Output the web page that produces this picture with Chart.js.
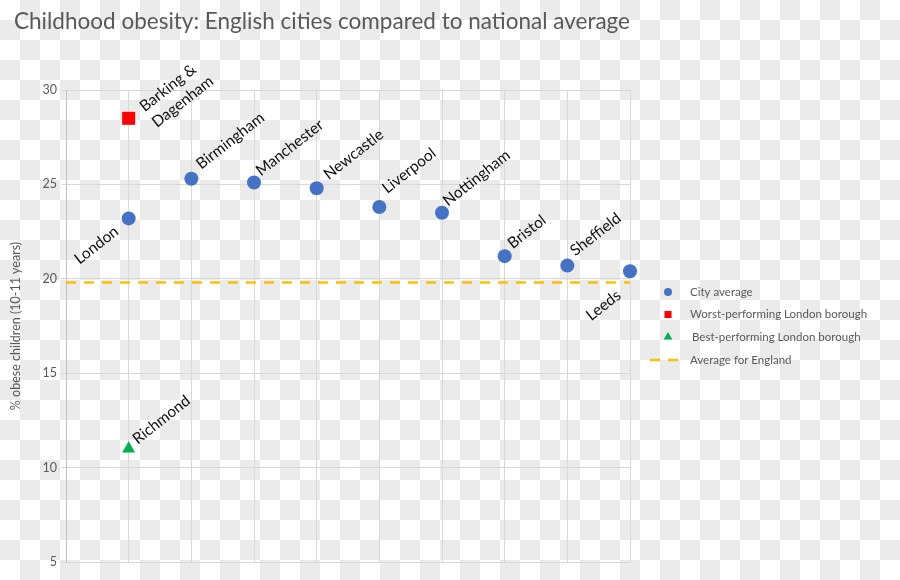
<!DOCTYPE html>
<html><head><meta charset="utf-8">
<script src="https://cdn.jsdelivr.net/npm/chart.js@4.4.1/dist/chart.umd.min.js"></script>
<style>
html,body{margin:0;padding:0;}
body{width:900px;height:580px;overflow:hidden;background-color:#fff;
background-image:conic-gradient(#ebebeb 25%,#fff 0 50%,#ebebeb 0 75%,#fff 0);background-size:40px 40px;}
#wrap{position:relative;width:900px;height:580px;}
</style></head><body>
<div id="wrap"><canvas id="c" width="900" height="580"></canvas></div>
<script>
// ---- data ----
const chartTitle = 'Childhood obesity: English cities compared to national average';
const yAxisTitle = '% obese children (10-11 years)';
const cities = ['London','Birmingham','Manchester','Newcastle','Liverpool','Nottingham','Bristol','Sheffield','Leeds'];
const cityPositions = [1,2,3,4,5,6,7,8,9];
const cityValues = [23.2,25.3,25.1,24.8,23.8,23.5,21.2,20.7,20.4];
const worstBoroughs = ['Barking &\nDagenham'];
const worstPositions = [1];
const worstValues = [28.5];
const bestBoroughs = ['Richmond'];
const bestPositions = [1];
const bestValues = [11.0];
const englandSpan = [0,9];
const englandAverage = [19.8,19.8];
const seriesNames = ['City average','Worst-performing London borough','Best-performing London borough','Average for England'];
const yMin = 5, yMax = 30, yStep = 5;

// ---- styles ----
const FONT = 'Lato';
const TXT = '#595959';
const GRID = '#d9d9d9';
const BLUE = '#4472C4', RED = '#FF0000', GREEN = '#00B050', GOLD = '#FFC000';
const LABEL_ANGLE = -38 * Math.PI / 180;
const labelFont = '15.5px ' + FONT;
// offsets of the label's baseline anchor from its point (style only)
const cityLabelStyle = [
  {dx:-9,dy:15,align:'right'},
  {dx:10,dy:-9,align:'left'},
  {dx:7,dy:-6,align:'left'},
  {dx:12,dy:-8,align:'left'},
  {dx:8,dy:-13,align:'left'},
  {dx:6,dy:-6,align:'left'},
  {dx:8,dy:-7,align:'left'},
  {dx:8,dy:-9,align:'left'},
  {dx:-8,dy:26,align:'right'}
];
const worstLabelStyle = [{dx:16,dy:-6,align:'left'}];
const bestLabelStyle = [{dx:9,dy:-4,align:'left'}];

// fit title font to reference width
const mctx = document.createElement('canvas').getContext('2d');
mctx.font = '24px ' + FONT;
const titleSize = Math.round(24 * 618 / mctx.measureText(chartTitle).width * 10) / 10;

const toPts = (xs, ys) => xs.map((x, i) => ({x: x, y: ys[i]}));

const labelPlugin = {
  id: 'pointLabels',
  afterDatasetsDraw(chart) {
    const ctx = chart.ctx;
    const sets = [[0, cities, cityLabelStyle],[1, worstBoroughs, worstLabelStyle],[2, bestBoroughs, bestLabelStyle]];
    ctx.save();
    ctx.font = labelFont;
    ctx.fillStyle = '#111';
    ctx.textBaseline = 'alphabetic';
    sets.forEach(([di, names, styles]) => {
      const meta = chart.getDatasetMeta(di);
      meta.data.forEach((el, i) => {
        const st = styles[i];
        const lines = names[i].split('\n');
        ctx.save();
        ctx.translate(el.x + st.dx, el.y + st.dy);
        ctx.rotate(LABEL_ANGLE);
        ctx.textAlign = st.align;
        lines.forEach((ln, k) => ctx.fillText(ln, 0, k * 20));
        ctx.restore();
      });
    });
    ctx.restore();
  }
};

const legendPlugin = {
  id: 'customLegend',
  afterDraw(chart) {
    const ctx = chart.ctx;
    const rowsY = [292, 314.5, 337, 360];
    const mx = 668, tx = 690;
    ctx.save();
    ctx.font = '11.5px ' + FONT;
    ctx.fillStyle = TXT;
    ctx.textBaseline = 'middle';
    ctx.textAlign = 'left';
    chart.data.datasets.forEach((ds, i) => {
      const y = rowsY[i];
      if (ds.type === 'line') {
        ctx.save();
        ctx.strokeStyle = ds.borderColor;
        ctx.lineWidth = ds.borderWidth;
        ctx.setLineDash(ds.borderDash);
        ctx.beginPath(); ctx.moveTo(650, y); ctx.lineTo(679, y); ctx.stroke();
        ctx.restore();
      } else {
        ctx.save();
        ctx.fillStyle = ds.backgroundColor; ctx.strokeStyle = ds.backgroundColor;
        const r = ds.pointStyle === 'rect' ? 5 : (ds.pointStyle === 'triangle' ? 5 : 4);
        Chart.helpers.drawPoint(ctx, {pointStyle: ds.pointStyle, radius: r, rotation: 0, borderWidth: 0}, mx, y);
        ctx.restore();
      }
      ctx.fillText(ds.label, tx + (i === 2 ? 2 : 0), y);
    });
    ctx.restore();
  }
};

const shiftTitle = {
  id: 'shiftTitle',
  afterLayout(chart) { if (chart.titleBlock) { chart.titleBlock.left = 14; } }
};

new Chart(document.getElementById('c'), {
  type: 'scatter',
  data: {
    datasets: [
      {label: seriesNames[0], data: toPts(cityPositions, cityValues), pointStyle: 'circle', pointRadius: 7, pointHoverRadius: 7,
       backgroundColor: BLUE, borderColor: BLUE, borderWidth: 0, clip: false},
      {label: seriesNames[1], data: toPts(worstPositions, worstValues), pointStyle: 'rect', pointRadius: 9.2, pointHoverRadius: 9.2,
       backgroundColor: RED, borderColor: RED, borderWidth: 0, clip: false},
      {label: seriesNames[2], data: toPts(bestPositions, bestValues), pointStyle: 'triangle', pointRadius: 7.5, pointHoverRadius: 7.5,
       backgroundColor: GREEN, borderColor: GREEN, borderWidth: 0, clip: false},
      {type: 'line', label: seriesNames[3], data: toPts(englandSpan, englandAverage), borderColor: GOLD, backgroundColor: GOLD,
       borderWidth: 2.5, borderDash: [10, 8], pointRadius: 0, fill: false, showLine: true, clip: false}
    ]
  },
  options: {
    responsive: false,
    animation: false,
    events: [],
    layout: {padding: {left: 8, right: 270, top: 0, bottom: 18}},
    plugins: {
      legend: {display: false},
      tooltip: {enabled: false},
      title: {display: true, text: chartTitle, align: 'start', color: TXT,
        font: {family: FONT, size: titleSize, weight: 'normal', lineHeight: 1.2},
        padding: {top: 22 - titleSize * 0.6, bottom: 90 - (22 + titleSize * 0.6)}}
    },
    scales: {
      x: {type: 'linear', min: englandSpan[0], max: englandSpan[1],
        ticks: {display: false, stepSize: 1},
        grid: {color: GRID, drawTicks: false, lineWidth: 1},
        border: {color: GRID},
        afterFit(s) { s.height = 0; }
      },
      y: {min: yMin, max: yMax,
        ticks: {stepSize: yStep, color: TXT, font: {family: FONT, size: 12.5}, padding: 4},
        grid: {color: GRID, tickLength: 5, lineWidth: 1},
        border: {color: '#bfbfbf'},
        title: {display: true, text: yAxisTitle, color: TXT, font: {family: FONT, size: 12.5}, padding: {top: 0, bottom: 0}},
        afterFit(s) { s.width = 58; }
      }
    }
  },
  plugins: [labelPlugin, legendPlugin, shiftTitle]
});
</script>
</body></html>
